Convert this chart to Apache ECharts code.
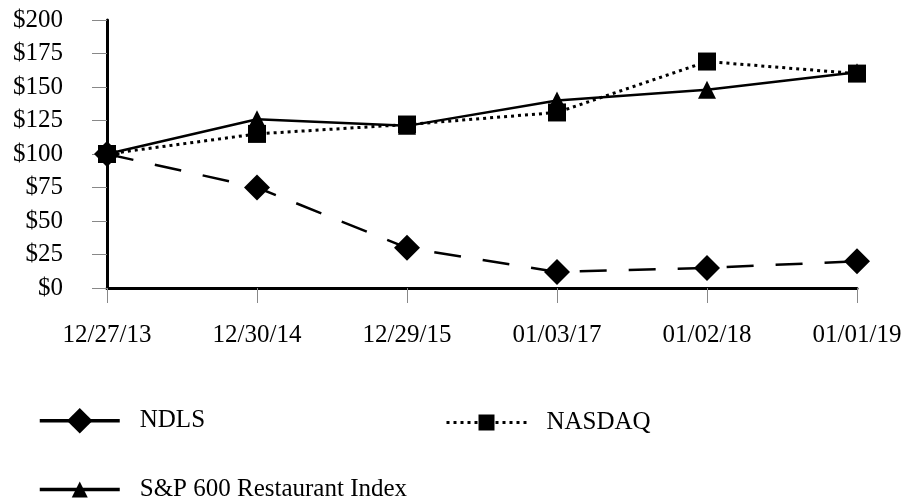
<!DOCTYPE html>
<html>
<head>
<meta charset="utf-8">
<script src="https://cdn.jsdelivr.net/npm/echarts@6/dist/echarts.min.js"></script>
<style>html,body{margin:0;padding:0;background:#fff;}#c{width:909px;height:498px;}</style>
</head>
<body>
<div id="c"></div>
<script>
const categories = ['12/27/13', '12/30/14', '12/29/15', '01/03/17', '01/02/18', '01/01/19'];
const ndls = [100, 75, 30, 12, 15, 20];
const nasdaq = [100, 115, 122, 131, 169, 160];
const sp600 = [100, 126, 121, 140, 148, 161];
const seriesNames = ['NDLS', 'NASDAQ', 'S&P 600 Restaurant Index'];

const FONT = '"Liberation Serif", "Times New Roman", serif';
const chart = echarts.init(document.getElementById('c'), null, {renderer: 'canvas'});
function legend(name, left, top, h, ls) {
  return {
    data: [{name: name, lineStyle: ls}],
    left: left, top: top, orient: 'horizontal', padding: 0,
    itemWidth: 80, itemHeight: h,
    textStyle: {fontFamily: FONT, fontSize: 25, color: '#000', padding: [0, 0, 0, 15]},
    selectedMode: false
  };
}
chart.setOption({
  animation: false,
  backgroundColor: '#fff',
  grid: {left: 107, right: 52, top: 20, bottom: 210},
  legend: [
    legend(seriesNames[0], 38, 408, 32, {type: 'solid', width: 3.5}),
    legend(seriesNames[1], 445, 410, 20, {type: [3, 4], width: 3}),
    legend(seriesNames[2], 38, 477, 20, {type: 'solid', width: 3.5})
  ],
  xAxis: {
    type: 'category',
    data: categories,
    boundaryGap: false,
    axisLine: {lineStyle: {color: '#000', width: 3}},
    axisTick: {show: true, length: 15, lineStyle: {color: '#888', width: 1}},
    axisLabel: {fontFamily: FONT, fontSize: 25, color: '#000', margin: 35}
  },
  yAxis: {
    type: 'value',
    min: 0, max: 200, interval: 25,
    splitLine: {show: false},
    axisLine: {show: true, lineStyle: {color: '#000', width: 3}},
    axisTick: {show: true, length: 15, lineStyle: {color: '#888', width: 1}},
    axisLabel: {fontFamily: FONT, fontSize: 25, color: '#000', margin: 44,
      formatter: v => '$' + v}
  },
  series: [
    {
      name: seriesNames[0], type: 'line', data: ndls,
      symbol: 'diamond', symbolSize: 26,
      lineStyle: {color: '#000', width: 2.5, type: [27, 22]},
      itemStyle: {color: '#000'}, z: 2
    },
    {
      name: seriesNames[2], type: 'line', data: sp600,
      symbol: 'triangle', symbolSize: 18,
      lineStyle: {color: '#000', width: 2.5, type: 'solid'},
      itemStyle: {color: '#000'}, z: 3
    },
    {
      name: seriesNames[1], type: 'line', data: nasdaq,
      symbol: 'rect', symbolSize: 18,
      lineStyle: {color: '#000', width: 3, type: [3, 4]},
      itemStyle: {color: '#000'}, z: 4
    }
  ]
});
</script>
</body>
</html>
